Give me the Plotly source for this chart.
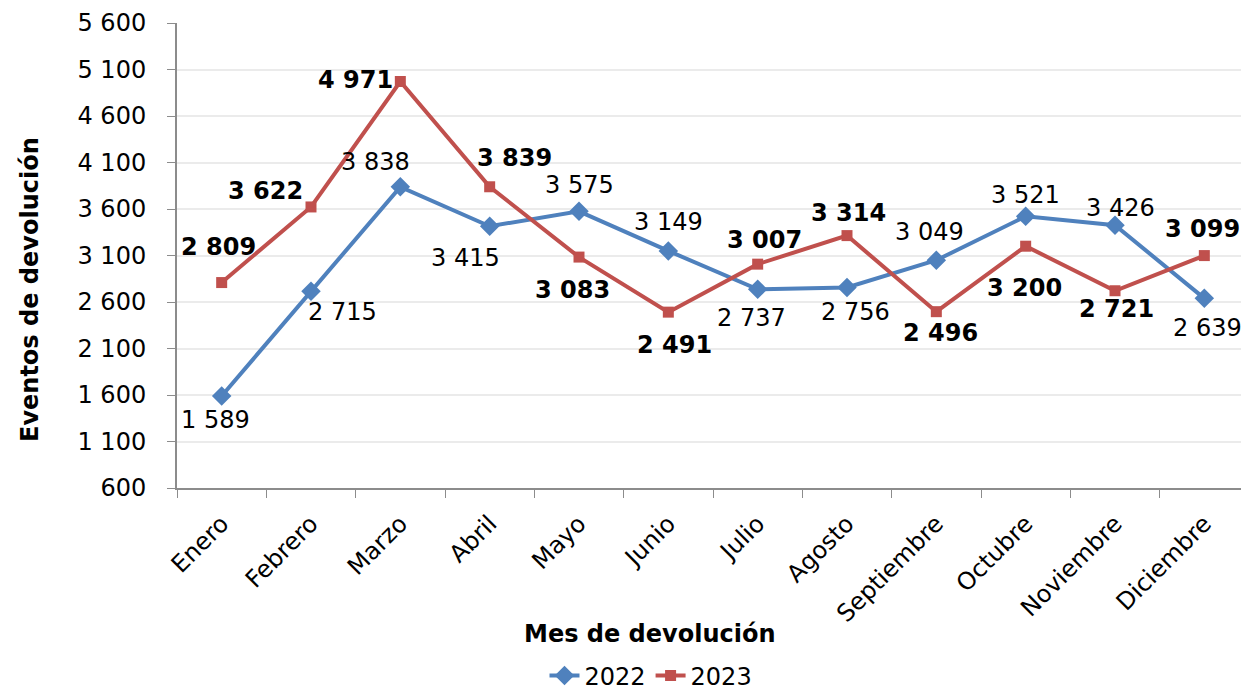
import plotly.graph_objects as go

months = ["Enero", "Febrero", "Marzo", "Abril", "Mayo", "Junio", "Julio",
          "Agosto", "Septiembre", "Octubre", "Noviembre", "Diciembre"]
v2022 = [1589, 2715, 3838, 3415, 3575, 3149, 2737, 2756, 3049, 3521, 3426, 2639]
v2023 = [2809, 3622, 4971, 3839, 3083, 2491, 3007, 3314, 2496, 3200, 2721, 3099]
ytick_vals = [600, 1100, 1600, 2100, 2600, 3100, 3600, 4100, 4600, 5100, 5600]

# label offsets in pixels (style)
off2022 = [(-6, -24), (31, -21), (-25, 25), (-24, -32), (0, 26), (0, 29),
           (-6, -29), (8, -25), (-7, 28), (0, 21), (5, 17), (3, -30)]
off2023 = [(-3, 36), (-46, 16), (-45, 2), (25, 29), (-7, -33), (6, -33),
           (7, 24), (1, 23), (4, -21), (-1, -42), (1, -18), (-2, 27)]

FONT = "DejaVu Sans"
FS = 24
BLUE = "#4F81BD"
RED = "#C0504D"

# page has an 8px body margin; figure sized so the plot lands where the reference has it
W, H = 1241, 683
ML, MT, MB, MR = 169, 15, 203, 0


def fmt(v):
    return f"{v:,}".replace(",", " ")


fig = go.Figure()
fig.add_trace(go.Scatter(x=months, y=v2022, name="2022", mode="lines+markers",
                         line=dict(color=BLUE, width=4),
                         marker=dict(symbol="diamond", size=15, color=BLUE)))
fig.add_trace(go.Scatter(x=months, y=v2023, name="2023", mode="lines+markers",
                         line=dict(color=RED, width=4),
                         marker=dict(symbol="square", size=11, color=RED)))

annotations = []
for m, v, (dx, dy) in zip(months, v2022, off2022):
    annotations.append(dict(x=m, y=v, xref="x", yref="y", text=fmt(v),
                            showarrow=False, xshift=dx, yshift=dy,
                            font=dict(family=FONT, size=FS, color="black")))
for m, v, (dx, dy) in zip(months, v2023, off2023):
    annotations.append(dict(x=m, y=v, xref="x", yref="y", text="<b>" + fmt(v) + "</b>",
                            showarrow=False, xshift=dx, yshift=dy,
                            font=dict(family=FONT, size=FS, color="black")))
annotations.append(dict(x=(650 - 177) / 1072, y=(488 - 634) / 465, xref="paper", yref="paper",
                        xanchor="center", yanchor="middle",
                        text="<b>Mes de devolución</b>", showarrow=False,
                        font=dict(family=FONT, size=FS, color="black")))
annotations.append(dict(x=(30 - 177) / 1072, y=(488 - 290) / 465, xref="paper", yref="paper",
                        xanchor="center", yanchor="middle",
                        text="<b>Eventos de devolución</b>", showarrow=False, textangle=-90,
                        font=dict(family=FONT, size=FS, color="black")))

fig.update_layout(
    width=W, height=H,
    margin=dict(l=ML, r=MR, t=MT, b=MB, pad=0),
    paper_bgcolor="white", plot_bgcolor="white",
    font=dict(family=FONT, size=FS, color="black"),
    showlegend=True,
    legend=dict(orientation="h", xref="container", yref="container",
                x=643 / W, y=15 / H, xanchor="center", yanchor="middle",
                font=dict(family=FONT, size=FS, color="black"),
                tracegroupgap=0),
    annotations=annotations,
    xaxis=dict(type="category", range=[-0.5, 11.5], tickangle=-45,
               showline=True, linecolor="#8c8c8c", linewidth=2,
               ticks="outside", tickson="boundaries", ticklen=8, tickcolor="#8c8c8c",
               ticklabelstandoff=10,
               showgrid=False, tickfont=dict(family=FONT, size=FS, color="black")),
    yaxis=dict(range=[600, 5600], tickvals=ytick_vals,
               ticktext=[fmt(t) for t in ytick_vals],
               showline=True, linecolor="#8c8c8c", linewidth=2,
               ticks="outside", ticklen=8, tickcolor="#8c8c8c",
               ticklabelstandoff=16,
               showgrid=True, gridcolor="#ebebeb", gridwidth=1.5,
               zeroline=False, tickfont=dict(family=FONT, size=FS, color="black")),
)

fig.write_html("out.html")
